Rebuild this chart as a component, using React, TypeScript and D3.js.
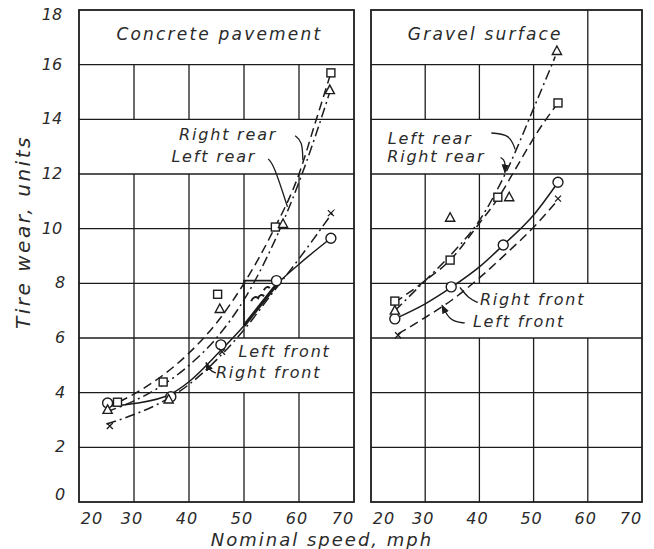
import React from "react";
import * as d3 from "d3";

// ---------- axes ----------
const speedTicks = [20, 30, 40, 50, 60, 70];
const wearTicks = [0, 2, 4, 6, 8, 10, 12, 14, 16, 18];

// ---------- Concrete pavement (speed mph, wear units) ----------
const concreteCircles = [[25.2, 3.62], [36.7, 3.85], [45.8, 5.75], [55.9, 8.1], [65.8, 9.65]];
const concreteSquares = [[27, 3.65], [35.3, 4.39], [45.2, 7.6], [55.7, 10.06], [65.8, 15.7]];
const concreteTriangles = [[25.2, 3.37], [36.3, 3.75], [45.6, 7.06], [57.1, 10.17], [65.6, 15.07]];
const concreteCrosses = [[25.6, 2.78], [46, 5.5], [65.8, 10.57]];

const concreteRearSquareCurve = [[25, 3.45], [30, 3.95], [35, 4.6], [40, 5.45], [45, 6.55], [50, 8.0], [55, 9.8], [60, 12.0], [63, 13.9], [65.8, 15.7]];
const concreteRearTriangleCurve = [[25, 3.3], [30, 3.7], [35, 4.25], [40, 5.0], [45, 6.0], [50, 7.4], [55, 9.3], [60, 11.7], [63, 13.4], [65.6, 15.0]];
const concreteLeftFrontCurve = [[25, 2.85], [30, 3.2], [35, 3.65], [40, 4.3], [45, 5.2], [50, 6.3], [55, 7.6], [60, 8.9], [66.5, 10.7]];
const concreteRightFrontCurve = [[25.2, 3.5], [30, 3.6], [36.7, 3.95], [40, 4.4], [45.8, 5.55], [50, 6.45], [55.9, 7.95], [60, 8.7], [65.8, 9.65]];

// ---------- Gravel surface ----------
const gravelCircles = [[24.4, 6.7], [34.8, 7.87], [44.4, 9.4], [54.5, 11.7]];
const gravelSquares = [[24.4, 7.35], [34.6, 8.85], [43.4, 11.15], [54.5, 14.6]];
const gravelTriangles = [[24.4, 7.0], [34.6, 10.4], [45.5, 11.15], [54.3, 16.5]];
const gravelCrosses = [[25, 6.1], [54.5, 11.1]];

const gravelRearTriangleCurve = [[24.4, 7.0], [30, 8.1], [35, 9.1], [40, 10.3], [45, 12.1], [50, 14.4], [54, 16.3]];
const gravelRearSquareCurve = [[24.4, 7.3], [30, 8.1], [34.6, 8.85], [40, 10.2], [43.4, 11.1], [47, 12.3], [50.6, 13.5], [54.5, 14.6]];
const gravelRightFrontCurve = [[24.4, 6.7], [30, 7.25], [34.8, 7.85], [40, 8.6], [44.4, 9.4], [50, 10.5], [54.5, 11.7]];
const gravelLeftFrontCurve = [[25, 6.15], [30, 6.75], [35, 7.4], [40, 8.2], [45, 9.1], [50, 10.05], [54.5, 11.05]];

// ---------- grid: vertical lines present in each row (row = lower wear value) ----------
const concreteRowVerticals = { 0: [30, 40, 50, 60], 2: [30, 40, 50, 60], 4: [30, 40], 6: [30, 40, 50, 60], 8: [30, 40, 50, 60], 10: [30, 40, 50, 60], 12: [], 14: [30, 40, 50, 60], 16: [] };
const gravelRowVerticals = { 0: [30, 40, 50, 60], 2: [30, 40, 50, 60], 4: [30, 40, 50, 60], 6: [30], 8: [30, 40, 50, 60], 10: [30, 40, 50, 60], 12: [50, 60], 14: [30, 40, 50, 60], 16: [60] };

// ---------- annotations (in data units) ----------
const concreteLabels = [
  { text: "Concrete pavement", at: [26.8, 16.9], size: 17 },
  { text: "Right rear", at: [38.2, 13.25], size: 16 },
  { text: "Left rear", at: [36.8, 12.45], size: 16 },
  { text: "Left front", at: [49.0, 5.3], size: 16 },
  { text: "Right front", at: [44.9, 4.54], size: 16 },
];
const concreteLeaders = [
  { pts: [[59.3, 13.4], [60.6, 13.2], [60.7, 12.5]], arrow: false },
  { pts: [[54.4, 12.55], [55.4, 12.35], [57.9, 10.8]], arrow: false },
  { pts: [[44.9, 4.72], [43.8, 4.8], [43.1, 5.1]], arrow: true },
];
const gravelLabels = [
  { text: "Gravel surface", at: [26.8, 16.9], size: 17 },
  { text: "Left rear", at: [23.1, 13.1], size: 16 },
  { text: "Right rear", at: [23.0, 12.45], size: 16 },
  { text: "Right front", at: [40.1, 7.2], size: 16 },
  { text: "Left front", at: [38.8, 6.4], size: 16 },
];
const gravelLeaders = [
  { pts: [[42.2, 13.5], [45.6, 13.45], [46.6, 12.9]], arrow: false },
  { pts: [[43.9, 12.6], [44.8, 12.5], [44.7, 12.05]], arrow: true },
  { pts: [[39.7, 7.3], [38.0, 7.45], [36.4, 7.85]], arrow: false },
  { pts: [[37.3, 6.55], [34.6, 6.6], [33.1, 7.2]], arrow: true },
];
const slopeTriangle = [[50, 6.45], [50, 8.1], [56, 8.1]];

const FONT = "'DejaVu Sans', 'Liberation Sans', sans-serif";
const INK = "#1c1c1c";
const TEXT_INK = "#2a2a2a";

function Marker({ kind, cx, cy }) {
  const common = { fill: "white", stroke: INK, strokeWidth: 1.4 };
  if (kind === "circle") return <circle cx={cx} cy={cy} r={5} {...common} />;
  if (kind === "square") return <rect x={cx - 4} y={cy - 4} width={8} height={8} {...common} />;
  if (kind === "triangle")
    return <path d={`M${cx},${cy - 5}L${cx + 4.6},${cy + 3.5}L${cx - 4.6},${cy + 3.5}Z`} {...common} />;
  return (
    <path d={`M${cx - 3},${cy - 3}L${cx + 3},${cy + 3}M${cx + 3},${cy - 3}L${cx - 3},${cy + 3}`} stroke={INK} strokeWidth={1.3} fill="none" />
  );
}

export default function App() {
  const W = 654, H = 549;
  const y = d3.scaleLinear().domain([0, 18]).range([502, 10]);

  const panels = [
    {
      key: "concrete",
      x: d3.scaleLinear().domain([20, 70]).range([79, 354]),
      rows: concreteRowVerticals,
      markers: [
        ["circle", concreteCircles], ["square", concreteSquares], ["triangle", concreteTriangles], ["cross", concreteCrosses],
      ],
      curves: [
        { d: concreteRearSquareCurve, dash: "9,5" },
        { d: concreteRearTriangleCurve, dash: "10,4,2,4" },
        { d: concreteLeftFrontCurve, dash: "10,4,2,4" },
        { d: concreteRightFrontCurve, dash: null },
      ],
      labels: concreteLabels,
      leaders: concreteLeaders,
      tri: true,
    },
    {
      key: "gravel",
      x: d3.scaleLinear().domain([20, 70]).range([371, 642]),
      rows: gravelRowVerticals,
      markers: [
        ["circle", gravelCircles], ["square", gravelSquares], ["triangle", gravelTriangles], ["cross", gravelCrosses],
      ],
      curves: [
        { d: gravelRearTriangleCurve, dash: "10,4,2,4" },
        { d: gravelRearSquareCurve, dash: "9,5" },
        { d: gravelRightFrontCurve, dash: null },
        { d: gravelLeftFrontCurve, dash: "9,5" },
      ],
      labels: gravelLabels,
      leaders: gravelLeaders,
      tri: false,
    },
  ];

  const yLabelY = (w) => (w === 18 ? 20 : w === 0 ? 500 : y(w) + 5);

  return (
    <svg width={W} height={H} style={{ position: "absolute", left: 0, top: 0, background: "white" }} fontFamily={FONT}>
      <defs>
        <marker id="arr" viewBox="0 0 10 10" refX="9" refY="5" markerWidth="7" markerHeight="7" orient="auto">
          <path d="M0,1L10,5L0,9Z" fill={INK} />
        </marker>
      </defs>
      <rect width={W} height={H} fill="white" />
      {panels.map((p) => {
        const x = p.x;
        const line = d3.line().x((d) => x(d[0])).y((d) => y(d[1])).curve(d3.curveMonotoneX);
        const leader = d3.line().x((d) => x(d[0])).y((d) => y(d[1])).curve(d3.curveBasis);
        const [x0, x1] = x.range();
        return (
          <g key={p.key}>
            {wearTicks.slice(1, -1).map((w) => (
              <line key={"h" + w} x1={x0} x2={x1} y1={y(w)} y2={y(w)} stroke={INK} strokeWidth={1.3} />
            ))}
            {Object.entries(p.rows).map(([row, vs]) =>
              vs.map((v) => (
                <line key={"v" + row + "_" + v} x1={x(v)} x2={x(v)} y1={y(+row)} y2={y(+row + 2)} stroke={INK} strokeWidth={1.3} />
              ))
            )}
            <rect x={x0} y={y(18)} width={x1 - x0} height={y(0) - y(18)} fill="none" stroke={INK} strokeWidth={1.8} />
            {speedTicks.map((v, i) => (
              <text key={"t" + v} x={x(v) + (i === 0 ? 13 : i === speedTicks.length - 1 ? -11 : -2)} y={524}
                textAnchor="middle" fontSize={16} fontStyle="italic" fill={TEXT_INK} letterSpacing={1}>
                {v}
              </text>
            ))}
            {p.curves.map((c, i) => (
              <path key={"c" + i} d={line(c.d)} fill="none" stroke={INK} strokeWidth={1.5} strokeDasharray={c.dash || undefined} />
            ))}
            {p.tri && (
              <g>
                <path d={d3.line()(slopeTriangle.map((d) => [x(d[0]), y(d[1])]))} fill="none" stroke={INK} strokeWidth={1.6} />
                <path d={line(concreteRightFrontCurve.filter((d) => d[0] >= 49.9 && d[0] <= 56))} fill="none" stroke={INK} strokeWidth={3.2} />
                <path
                  d={`M${x(51.3)},${y(7.35)} q3,-6 7,-3 q2,-5 6,-2 M${x(53.6)},${y(7.75)} q3,-5 6,-2`}
                  fill="none" stroke={INK} strokeWidth={2} />
              </g>
            )}
            {p.markers.map(([kind, pts]) =>
              pts.map((d, i) => <Marker key={kind + i} kind={kind} cx={x(d[0])} cy={y(d[1])} />)
            )}
            {p.leaders.map((l, i) => (
              <path key={"l" + i} d={leader(l.pts)} fill="none" stroke={INK} strokeWidth={1.3} markerEnd={l.arrow ? "url(#arr)" : undefined} />
            ))}
            {p.labels.map((l, i) => (
              <text key={"lb" + i} x={x(l.at[0])} y={y(l.at[1])} fontSize={l.size} fontStyle="italic" fill={TEXT_INK}
                letterSpacing={l.size > 16 ? 2.2 : 1.8}>
                {l.text}
              </text>
            ))}
          </g>
        );
      })}
      {wearTicks.map((w) => (
        <text key={"yt" + w} x={String(w).length === 2 ? 52 : 60} y={yLabelY(w)} textAnchor="middle"
          fontSize={16} fontStyle="italic" fill={TEXT_INK}>
          {w}
        </text>
      ))}
      <text transform={`translate(30,232) rotate(-90)`} textAnchor="middle" fontSize={20} fontStyle="italic" fill={TEXT_INK} letterSpacing={2.5}>
        Tire wear, units
      </text>
      <text x={322} y={546} textAnchor="middle" fontSize={18} fontStyle="italic" fill={TEXT_INK} letterSpacing={2}>
        Nominal speed, mph
      </text>
    </svg>
  );
}
